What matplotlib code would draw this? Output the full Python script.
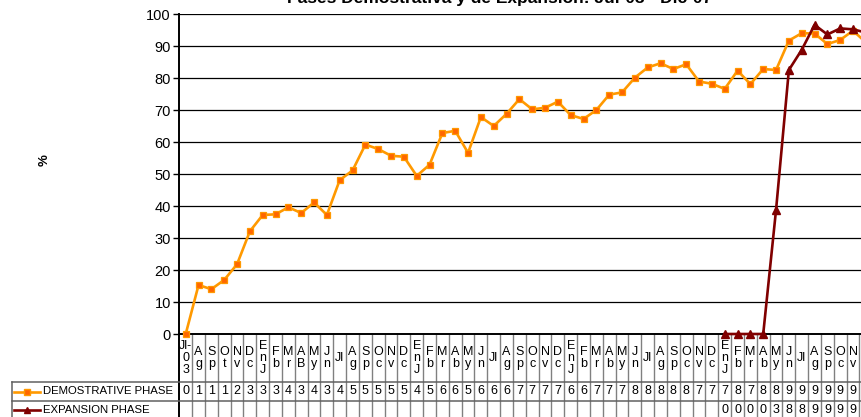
import matplotlib
matplotlib.use('Agg')
import matplotlib.pyplot as plt
import matplotlib.transforms as mtransforms
from matplotlib.lines import Line2D
import numpy as np

plt.rcParams['font.family'] = ['Liberation Sans', 'DejaVu Sans']

title = "Fases Demostrativa y de Expansión: Jul-03 - Dic-07"
ylabel = "%"

categories = ["Jl-\n0\n3", "A\ng", "S\np", "O\nt", "N\nv", "D\nc",
              "E\nn\nJ", "F\nb", "M\nr", "A\nB", "M\ny", "J\nn",
              "Jl", "A\ng", "S\np", "O\nc", "N\nv", "D\nc",
              "E\nn\nJ", "F\nb", "M\nr", "A\nb", "M\ny", "J\nn",
              "Jl", "A\ng", "S\np", "O\nc", "N\nv", "D\nc",
              "E\nn\nJ", "F\nb", "M\nr", "A\nb", "M\ny", "J\nn",
              "Jl", "A\ng", "S\np", "O\nc", "N\nv", "D\nc",
              "E\nn\nJ", "F\nb", "M\nr", "A\nb", "M\ny", "J\nn",
              "Jl", "A\ng", "S\np", "O\nc", "N\nv", "D\nc"]

demostrative = [0.0, 15.3, 14.0, 16.9, 21.8, 32.1, 37.2, 37.4, 39.6, 37.8, 41.1, 37.2,
                48.1, 51.1, 59.2, 57.8, 55.7, 55.4, 49.4, 52.9, 62.8, 63.5, 56.6, 67.8,
                65.0, 68.8, 73.4, 70.2, 70.7, 72.6, 68.4, 67.2, 70.0, 74.8, 75.5, 80.1,
                83.3, 84.6, 82.8, 84.3, 78.9, 78.2, 76.6, 82.3, 78.1, 82.8, 82.5, 91.7,
                94.0, 93.9, 90.6, 91.9, 94.8, 91.1]

expansion = [np.nan] * 42 + [0.0, 0.0, 0.0, 0.0, 38.8, 82.5, 88.8, 96.6, 93.6, 95.5, 95.2, 94.2]

series_names = ["DEMOSTRATIVE PHASE", "EXPANSION PHASE"]
yticks = [0, 10, 20, 30, 40, 50, 60, 70, 80, 90, 100]

W, H = 862, 417
fig = plt.figure(figsize=(W / 100, H / 100), dpi=100)
fig.patch.set_facecolor('white')

ax_left, ax_right, ax_top, ax_bottom = 179.3, 872.3, 14, 334
ax = fig.add_axes([ax_left / W, (H - ax_bottom) / H, (ax_right - ax_left) / W, (ax_bottom - ax_top) / H])

x = np.arange(len(categories))
orange_line = '#FF9900'
orange_face = '#FF6600'
red = '#800000'

ax.plot(x, demostrative, color=orange_line, lw=1.9, marker='s', markersize=5,
        markerfacecolor=orange_face, markeredgecolor=orange_line, markeredgewidth=0.9,
        clip_on=False, zorder=4)
ax.plot(x, expansion, color=red, lw=1.9, marker='^', markersize=5.5,
        markerfacecolor=red, markeredgecolor=red, clip_on=False, zorder=5)

ax.set_xlim(-0.5, len(categories) - 0.5)
ax.set_ylim(0, 100)
ax.set_yticks(yticks)
ax.set_yticklabels([str(t) for t in yticks], fontsize=10.5)
ax.tick_params(axis='y', length=4, width=1, color='black', pad=2)
ax.set_xticks([])
ax.grid(axis='y', color='black', lw=0.9)
ax.set_axisbelow(True)
for s in ['top', 'right']:
    ax.spines[s].set_visible(False)
ax.spines['left'].set_linewidth(1.4)
ax.spines['bottom'].set_linewidth(1.4)

# y label
fig.text(45 / W, 1 - 160 / H, ylabel, rotation=90, fontsize=9.5, fontweight='bold',
         ha='center', va='center')

# title (partially cropped at top, as in the reference)
fig.text(500 / W, 1 - 3 / H, title, fontsize=12.5, fontweight='bold', ha='center', va='baseline')

# data table
trans = mtransforms.blended_transform_factory(ax.transData, ax.transAxes)
def ay(ypx):
    return (ax_bottom - ypx) / (ax_bottom - ax_top)
def axx(xpx):
    return (xpx - ax_left) / (ax_right - ax_left)

hdr_bot, row1_bot, row2_bot = 382, 401, 421
grid_col = '#808080'
for i in range(len(categories) + 1):
    ax.add_line(Line2D([i - 0.5, i - 0.5], [0, ay(row2_bot)], transform=trans,
                       color=grid_col if i > 0 else 'black', lw=1.0 if i > 0 else 1.4,
                       clip_on=False))
for yb in [hdr_bot, row1_bot]:
    ax.add_line(Line2D([axx(12), 1.0], [ay(yb), ay(yb)], transform=ax.transAxes,
                       color='#606060', lw=1.1, clip_on=False))
ax.add_line(Line2D([axx(12), axx(12)], [ay(hdr_bot), ay(row2_bot)], transform=ax.transAxes,
                   color='#606060', lw=1.1, clip_on=False))

def first_digit(v):
    if v is None or np.isnan(v):
        return ""
    return str(int(round(v)))[0]

# column centre in figure pixels, to skip cells whose centre lies past the figure edge
def col_center_px(i):
    return ax_left + (i + 0.5) * (ax_right - ax_left) / len(categories)

for i, (lab, d, e) in enumerate(zip(categories, demostrative, expansion)):
    if col_center_px(i) > W - 3:
        continue
    ax.text(i, ay((ax_bottom + hdr_bot) / 2), lab, transform=trans, ha='center', va='center',
            fontsize=9, linespacing=1.02, clip_on=False)
    ax.text(i, ay((hdr_bot + row1_bot) / 2), first_digit(d), transform=trans,
            ha='center', va='center', fontsize=9, clip_on=False)
    ax.text(i, ay((row1_bot + row2_bot) / 2 - 1), first_digit(e), transform=trans,
            ha='center', va='center', fontsize=9, clip_on=False)

# legend keys in table
for name, yc, col, mk, fc in [(series_names[0], (hdr_bot + row1_bot) / 2, orange_line, 's', orange_face),
                              (series_names[1], (row1_bot + row2_bot) / 2 - 1, red, '^', red)]:
    ax.add_line(Line2D([axx(14), axx(40)], [ay(yc), ay(yc)], transform=ax.transAxes,
                       color=col, lw=1.9, clip_on=False))
    ax.add_line(Line2D([axx(27.5)], [ay(yc)], transform=ax.transAxes, marker=mk,
                       markersize=5, markerfacecolor=fc, markeredgecolor=col, color=col,
                       clip_on=False))
    ax.text(axx(43), ay(yc), name, transform=ax.transAxes, ha='left', va='center',
            fontsize=8.2, clip_on=False)

fig.savefig('out.png', dpi=100, facecolor='white')
